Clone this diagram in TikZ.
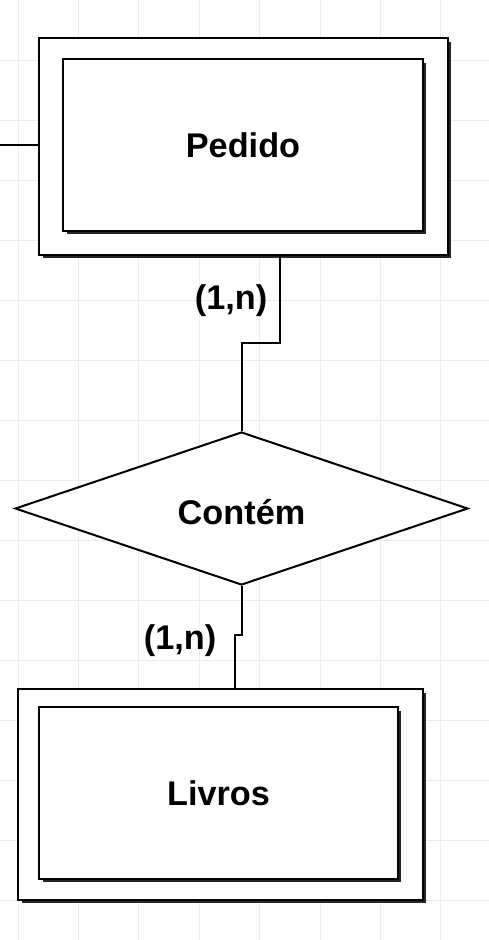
\documentclass[tikz,border=0pt]{standalone}
\usepackage{fontspec}
\setmainfont{Liberation Sans}
\usetikzlibrary{shapes,shapes.geometric,positioning,shadows,calc}
\usepackage{xcolor}

\definecolor{gridgray}{HTML}{ECECEC}

\begin{document}
\begin{tikzpicture}[x=0.02cm, y=-0.02cm]

	\tikzstyle{entbox}=[draw, rectangle, fill=white, line width=0.04cm, inner sep=0pt,
		drop shadow={shadow xshift=0.07cm, shadow yshift=-0.07cm, opacity=0.85, fill=black}];
	\tikzstyle{relbox}=[draw, diamond, fill=white, line width=0.04cm, inner sep=0pt,
		minimum width=9.06cm, minimum height=3.02cm];
	\tikzstyle{bigtxt}=[font=\fontsize{19.5}{22}\selectfont\bfseries];
	\tikzstyle{conn}=[line width=0.04cm];

	\useasboundingbox (0,0) rectangle (489,940);
	\fill[white] (0,0) rectangle (489,940);

	% background grid
	\foreach \gx in {0,...,7}
		\draw[gridgray, line width=0.02cm] ({18+60.4*\gx},0) -- ({18+60.4*\gx},940);
	\foreach \gy in {1,...,15}
		\draw[gridgray, line width=0.02cm] (0,{60*\gy}) -- (489,{60*\gy});

	\begin{scope}[>=stealth]

		\node (pedido_outer) at (243.5,146.5) [entbox, minimum width=8.18cm, minimum height=4.34cm]{};
		\node (pedido) at (243,145) [entbox, bigtxt, minimum width=7.2cm, minimum height=3.44cm]{Pedido};

		\node (contem) at (241.5,508.5) [relbox, bigtxt]{\raisebox{-0.07cm}[\height][\depth]{Contém}};

		\node (livros_outer) at (220.5,794.5) [entbox, minimum width=8.1cm, minimum height=4.22cm]{};
		\node (livros) at (218.5,793) [entbox, bigtxt, minimum width=7.18cm, minimum height=3.44cm]{Livros};

		\coordinate (left_end) at (0,145);
		\coordinate (bend_a) at (280,343);
		\coordinate (bend_c) at (235,635);

		\draw[conn] (left_end) -- (pedido_outer.west |- left_end);
		\draw[conn] (pedido_outer.south -| bend_a) -- (bend_a) -- (contem.north |- bend_a) -- (contem.north);
		\draw[conn] (contem.south) -- (contem.south |- bend_c) -- (bend_c) -- (bend_c |- livros_outer.north);

		\node (card_top) at (231,301) [bigtxt]{(1,n)};
		\node (card_bottom) at (180,641) [bigtxt]{(1,n)};

	\end{scope}
\end{tikzpicture}
\end{document}
